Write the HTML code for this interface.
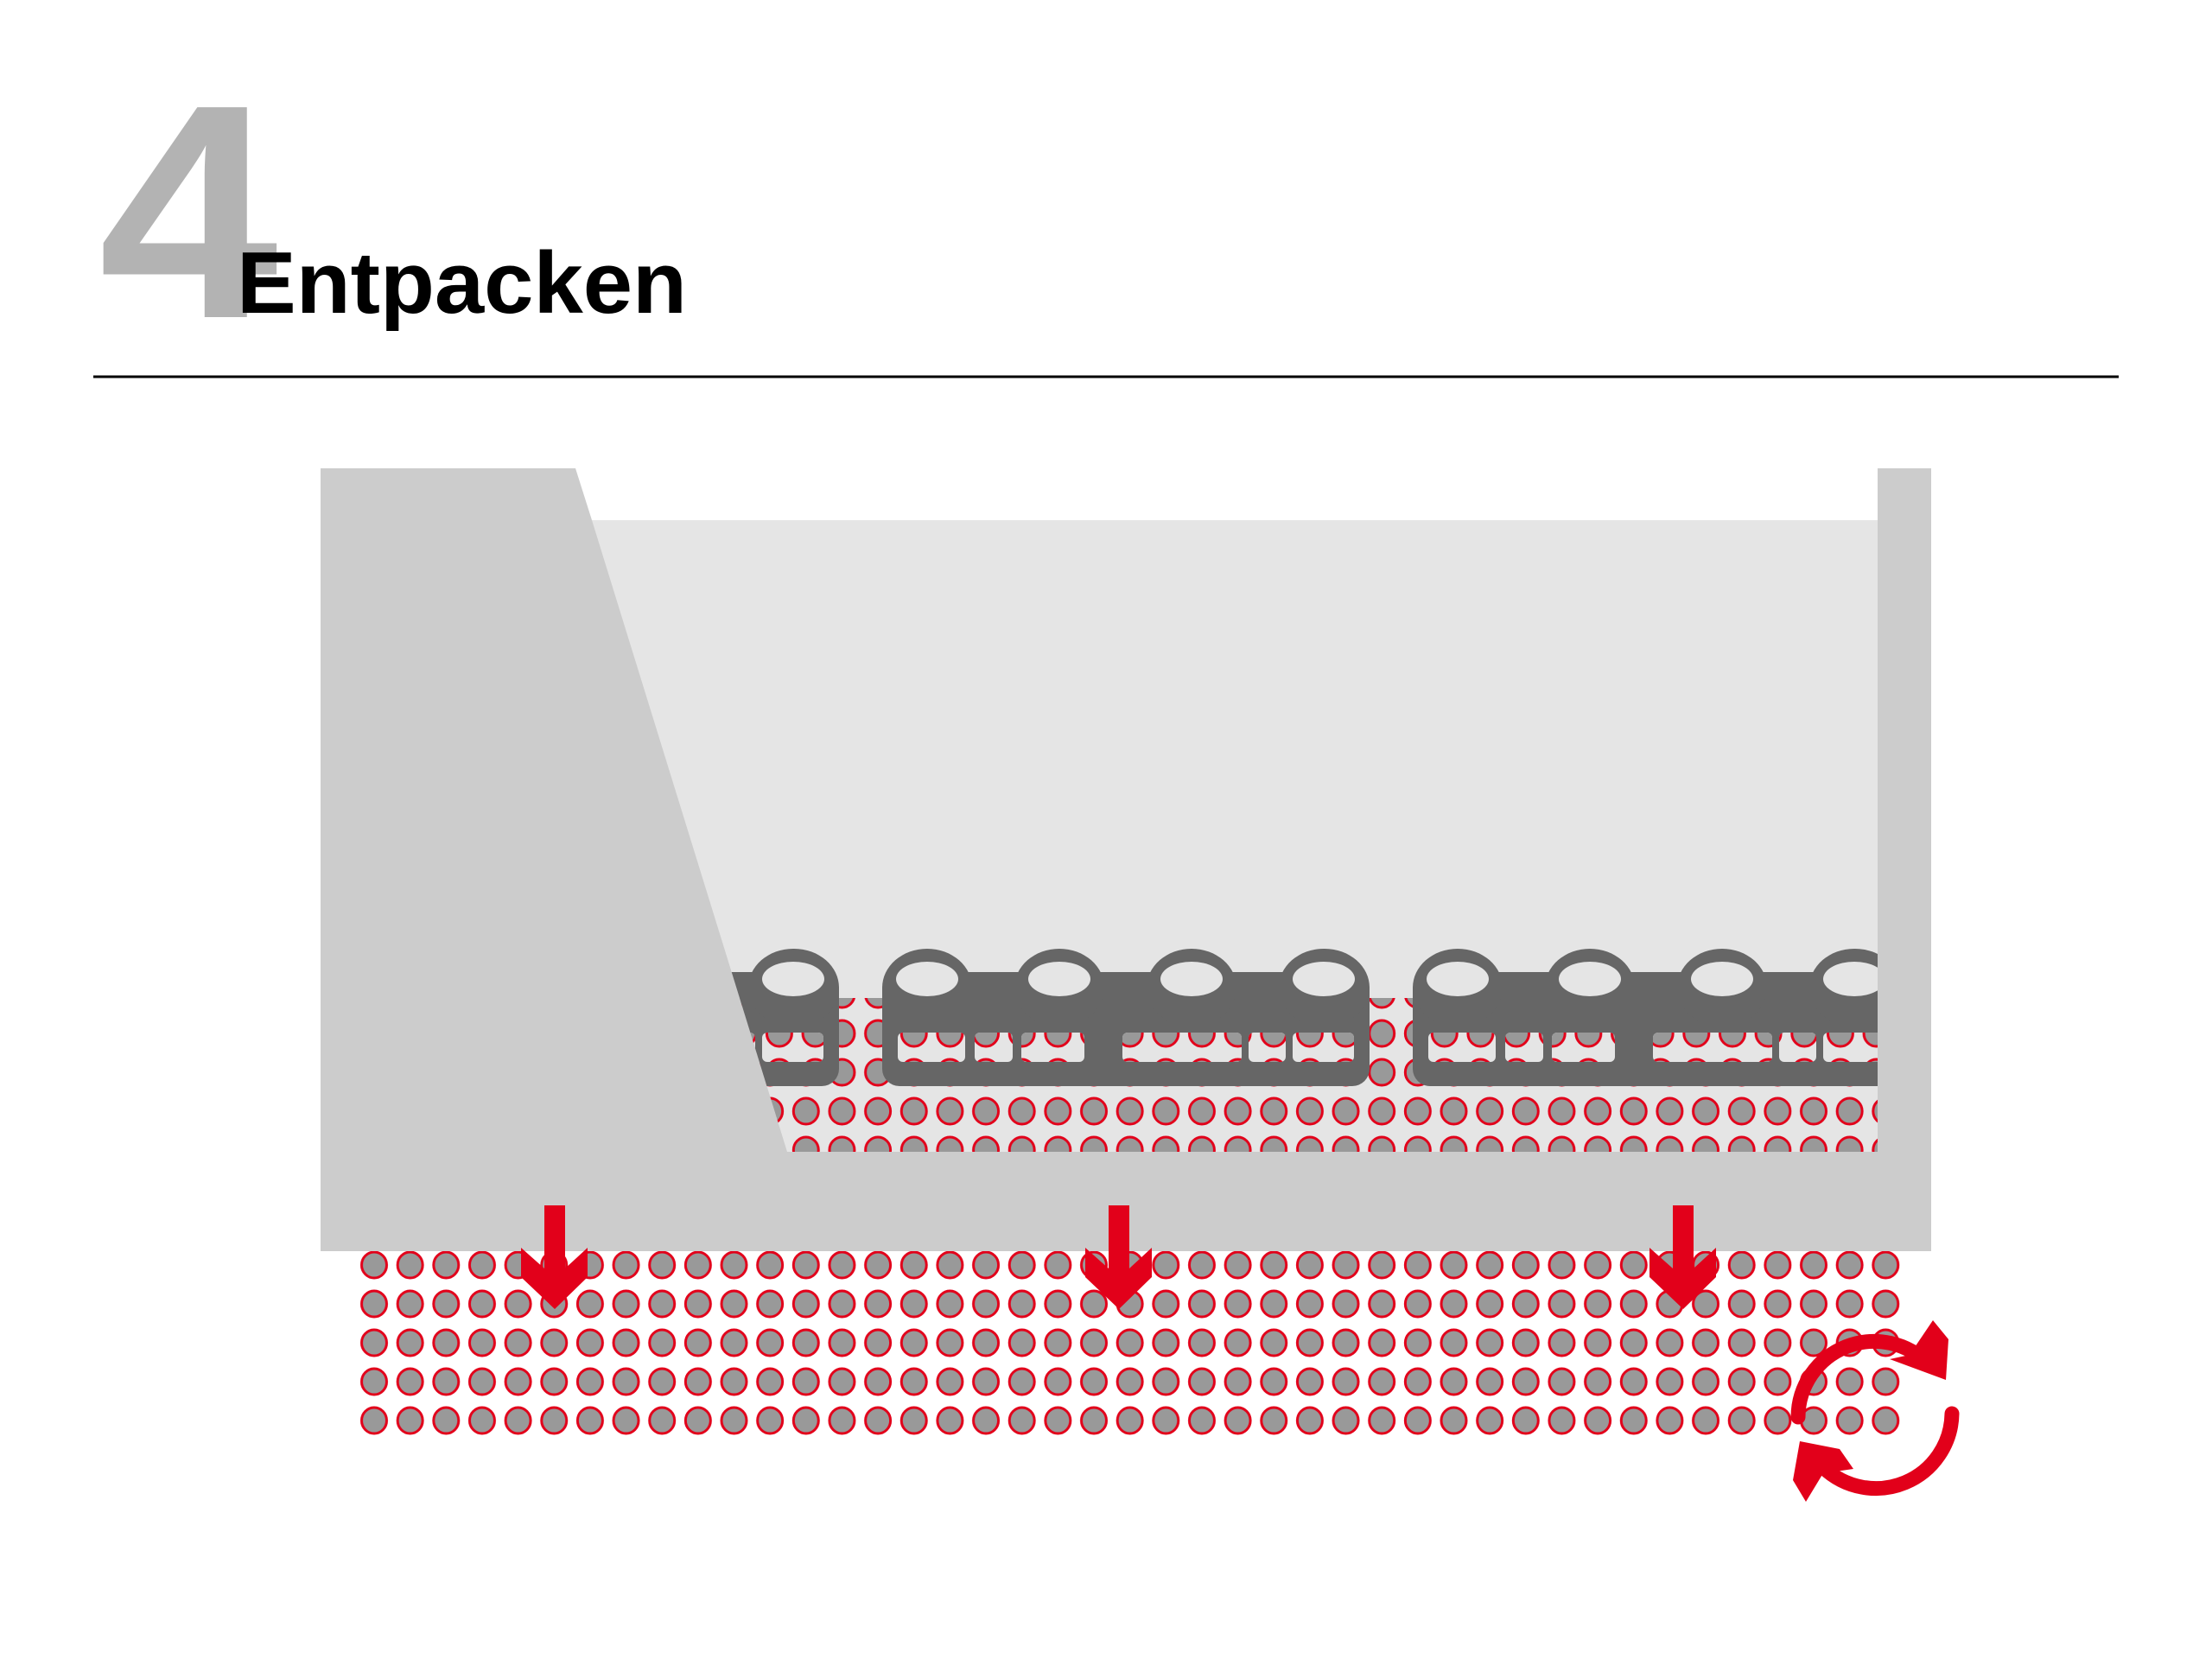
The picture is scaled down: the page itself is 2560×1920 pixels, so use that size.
<!DOCTYPE html>
<html><head><meta charset="utf-8"><style>html,body{margin:0;padding:0;background:#fff}svg{display:block}</style></head>
<body>
<svg width="2560" height="1920" viewBox="0 0 2560 1920" xmlns="http://www.w3.org/2000/svg">
<defs>
<pattern id="pb" patternUnits="userSpaceOnUse" x="412.2" y="1441.5" width="41.65" height="45">
<ellipse cx="20.8" cy="22.5" rx="14.5" ry="15" fill="#999" stroke="#e2001a" stroke-width="3"/>
</pattern>
<pattern id="pi" patternUnits="userSpaceOnUse" x="412.2" y="1128.5" width="41.65" height="45">
<ellipse cx="20.8" cy="22.5" rx="14.5" ry="15" fill="#999" stroke="#e2001a" stroke-width="3"/>
</pattern>
<clipPath id="inner"><polygon points="685,602 2173,602 2173,1333 911,1333"/></clipPath>
<g id="pal">
<rect x="1021" y="1125" width="564" height="132" rx="20" fill="#666"/>
<rect x="1021" y="1098" width="104" height="90" rx="52" fill="#666"/>
<rect x="1174" y="1098" width="104" height="90" rx="52" fill="#666"/>
<rect x="1327" y="1098" width="104" height="90" rx="52" fill="#666"/>
<rect x="1480" y="1098" width="105" height="90" rx="52" fill="#666"/>
<g fill="#e5e5e5">
<ellipse cx="1073" cy="1133" rx="36" ry="20"/>
<ellipse cx="1226" cy="1133" rx="36" ry="20"/>
<ellipse cx="1379" cy="1133" rx="36" ry="20"/>
<ellipse cx="1532" cy="1133" rx="36" ry="20"/>
</g>
<g fill="#e5e5e5">
<rect x="1039" y="1195" width="78" height="34" rx="6"/>
<rect x="1128" y="1195" width="44" height="34" rx="6"/>
<rect x="1182" y="1195" width="73" height="34" rx="6"/>
<rect x="1299" y="1195" width="138" height="34" rx="6"/>
<rect x="1445" y="1195" width="43" height="34" rx="6"/>
<rect x="1496" y="1195" width="71" height="34" rx="6"/>
</g>
<g fill="url(#pi)">
<rect x="1039" y="1195" width="78" height="34" rx="6"/>
<rect x="1128" y="1195" width="44" height="34" rx="6"/>
<rect x="1182" y="1195" width="73" height="34" rx="6"/>
<rect x="1299" y="1195" width="138" height="34" rx="6"/>
<rect x="1445" y="1195" width="43" height="34" rx="6"/>
<rect x="1496" y="1195" width="71" height="34" rx="6"/>
</g>
</g>
</defs>

<text x="114" y="367" font-family="Liberation Sans, sans-serif" font-weight="bold" font-size="353" fill="#b3b3b3" transform="translate(114 0) scale(1.06 1) translate(-114 0)">4</text>
<text x="274" y="362" font-family="Liberation Sans, sans-serif" font-weight="bold" font-size="101" fill="#000" textLength="521" lengthAdjust="spacingAndGlyphs">Entpacken</text>
<rect x="108" y="434.5" width="2344" height="3" fill="#000"/>

<rect x="371" y="542" width="1864" height="906" fill="#ccc"/>
<polygon points="666,542 2173,542 2173,602 685,602" fill="#fff"/>
<polygon points="685,602 2173,602 2173,1333 911,1333" fill="#e5e5e5"/>

<g clip-path="url(#inner)">
<rect x="400" y="1155" width="1800" height="180" fill="url(#pi)"/>
<g transform="translate(-614 0)"><use href="#pal" transform="translate(0 0)"/></g>
<use href="#pal"/>
<use href="#pal" transform="translate(614 0)"/>
</g>

<rect x="415" y="1448" width="1785" height="220" fill="url(#pb)"/>

<g fill="#e2001a">
<polygon id="arr" points="1283,1395 1307,1395 1307,1468 1333,1444 1333,1478 1295,1515 1256,1478 1256,1444 1283,1468"/>
<use href="#arr" transform="translate(-653 0)"/>
<use href="#arr" transform="translate(653 0)"/>
</g>

<g fill="none" stroke="#e2001a" stroke-width="17" stroke-linecap="round">
<path d="M2081,1640 A88,88 0 0 1 2233,1580"/>
<path d="M2259,1636 A88,88 0 0 1 2110,1698"/>
</g>
<g fill="#e2001a">
<polygon points="2237,1528 2255,1550 2252,1597 2187,1573 2210,1568"/>
<polygon points="2083,1668 2129,1677 2145,1700 2110,1705 2090,1738 2075,1713"/>
</g>
</svg>
</body></html>
